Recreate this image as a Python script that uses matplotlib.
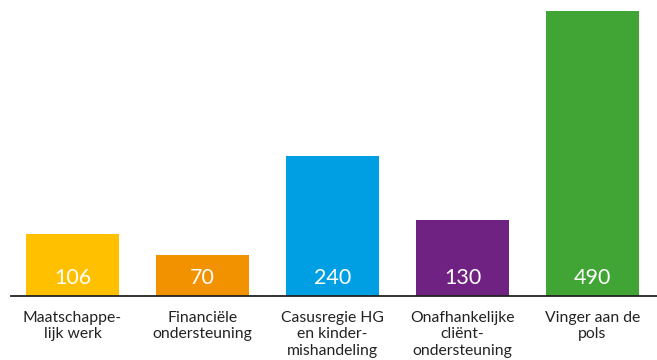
import matplotlib
matplotlib.use("Agg")
import matplotlib.pyplot as plt

categories = ["Maatschappe-\nlijk werk", "Financiële\nondersteuning", "Casusregie HG\nen kinder-\nmishandeling",
              "Onafhankelijke\ncliënt-\nondersteuning", "Vinger aan de\npols"]
values = [106, 70, 240, 130, 490]
colors = ["#FFC000", "#F39200", "#009FE3", "#6F2282", "#41A535"]

plt.rcParams['font.family'] = ['Lato', 'DejaVu Sans']

fig = plt.figure(figsize=(6.57, 3.6), dpi=100)
ax = fig.add_axes([11/657, 64/360, 646/657, 296/360])
x = list(range(len(values)))
ax.bar(x, values, width=0.715, color=colors, zorder=2)
offset = matplotlib.transforms.ScaledTranslation(0, 12/100, fig.dpi_scale_trans)
for xi, v in zip(x, values):
    ax.text(xi, 0, str(v), ha='center', va='baseline', color='white', fontsize=15.5,
            transform=ax.transData + offset)
ax.set_xlim(-0.473, 4.496)
ax.set_ylim(0, 296/0.5816)
for s in ['top', 'right', 'left']:
    ax.spines[s].set_visible(False)
ax.spines['bottom'].set_color('#222222')
ax.spines['bottom'].set_linewidth(1.3)
ax.set_yticks([])
ax.set_xticks(x)
ax.set_xticklabels(categories, fontsize=11.3, color='#222222', linespacing=1.23)
ax.tick_params(axis='x', length=0, pad=10.5)
fig.savefig("out.png", dpi=100)
